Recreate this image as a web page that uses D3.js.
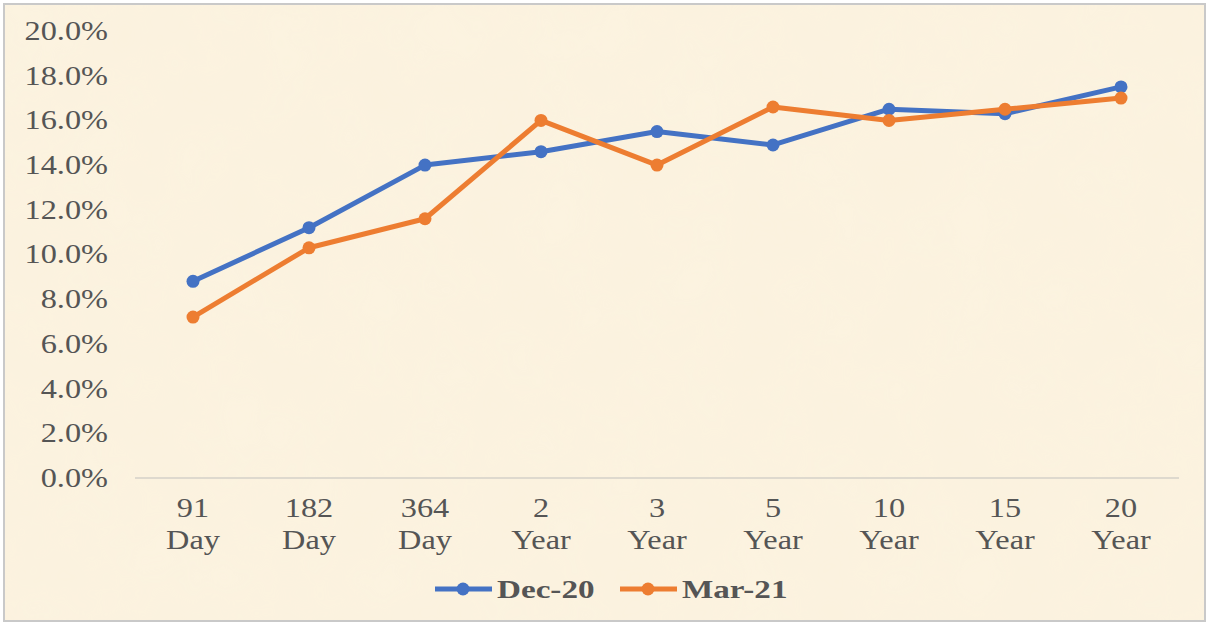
<!DOCTYPE html>
<html>
<head>
<meta charset="utf-8">
<script src="https://cdn.jsdelivr.net/npm/d3@7"></script>
<style>
html,body{margin:0;padding:0;background:#fff;}
svg{display:block;}
</style>
</head>
<body>
<svg id="chart" width="1208" height="624"></svg>
<script>
const categories = [["91","Day"],["182","Day"],["364","Day"],["2","Year"],["3","Year"],["5","Year"],["10","Year"],["15","Year"],["20","Year"]];
const dec20 = [8.8, 11.2, 14.0, 14.6, 15.5, 14.9, 16.5, 16.3, 17.5];
const mar21 = [7.2, 10.3, 11.6, 16.0, 14.0, 16.6, 16.0, 16.5, 17.0];
const yTicks = [0, 2, 4, 6, 8, 10, 12, 14, 16, 18, 20];
const seriesNames = ["Dec-20", "Mar-21"];
const colors = ["#4472C4", "#ED7D31"];

const svg = d3.select("#chart");
const W = 1208, H = 624;
const font = "'Liberation Serif','Times New Roman',serif";
const sx = 1.22; // horizontal text stretch seen in reference

// background
const defs = svg.append("defs");
const flt = defs.append("filter").attr("id","paper").attr("x",0).attr("y",0).attr("width","100%").attr("height","100%");
flt.append("feTurbulence").attr("type","fractalNoise").attr("baseFrequency","0.015").attr("numOctaves",3).attr("seed",4).attr("result","n");
flt.append("feColorMatrix").attr("in","n").attr("type","matrix")
  .attr("values","0 0 0 0 0.94  0 0 0 0 0.86  0 0 0 0 0.70  0 0 0 0.32 0").attr("result","c");
flt.append("feComposite").attr("in","c").attr("in2","SourceGraphic").attr("operator","in");

svg.append("rect").attr("x",4).attr("y",4).attr("width",W-7).attr("height",H-7)
  .attr("fill","#FCF3E0").attr("stroke","#C9C9C9").attr("stroke-width",2);
svg.append("rect").attr("x",5).attr("y",5).attr("width",W-9).attr("height",H-9)
  .attr("fill","#FCF3E0").attr("filter","url(#paper)");

const x = d3.scaleBand().domain(d3.range(categories.length)).range([135, 1179]);
const y = d3.scaleLinear().domain([0, 20]).range([478, 31]);

// x axis line
svg.append("line").attr("x1",135).attr("x2",1179).attr("y1",y(0)).attr("y2",y(0))
  .attr("stroke","#D4D0C8").attr("stroke-width",1.5);

// y tick labels
const yg = svg.append("g");
yTicks.forEach(t => {
  yg.append("text")
    .attr("transform", `translate(108,${y(t)}) scale(${sx},1)`)
    .attr("text-anchor","end").attr("dominant-baseline","central")
    .attr("font-family",font).attr("font-size",26.5).attr("fill","#555555")
    .text(d3.format(".1f")(t) + "%");
});

// x labels
const xg = svg.append("g");
categories.forEach((c, i) => {
  const cx = x(i) + x.bandwidth()/2;
  c.forEach((line, k) => {
    xg.append("text")
      .attr("transform", `translate(${cx},${517 + k*32}) scale(${sx},1)`)
      .attr("text-anchor","middle")
      .attr("font-family",font).attr("font-size",26.5).attr("fill","#555555")
      .text(line);
  });
});

// lines
const lineGen = d3.line().x((d,i) => x(i) + x.bandwidth()/2).y(d => y(d));
[dec20, mar21].forEach((s, si) => {
  const g = svg.append("g");
  g.append("path").datum(s).attr("d", lineGen).attr("fill","none")
    .attr("stroke", colors[si]).attr("stroke-width",5).attr("stroke-linejoin","round");
  g.selectAll("circle").data(s).join("circle")
    .attr("cx",(d,i)=>x(i)+x.bandwidth()/2).attr("cy",d=>y(d)).attr("r",6.5)
    .attr("fill",colors[si]);
});

// legend
const legendItems = [{x0:435, tx:497},{x0:620, tx:682}];
legendItems.forEach((L, i) => {
  const g = svg.append("g");
  g.append("line").attr("x1",L.x0).attr("x2",L.x0+57).attr("y1",589).attr("y2",589)
    .attr("stroke",colors[i]).attr("stroke-width",5);
  g.append("circle").attr("cx",L.x0+28).attr("cy",589).attr("r",6.5).attr("fill",colors[i]);
  g.append("text").attr("transform",`translate(${L.tx},598) scale(1.3,1)`)
    .attr("font-family",font).attr("font-size",25.5).attr("font-weight","bold").attr("fill","#555555")
    .text(seriesNames[i]);
});
</script>
</body>
</html>
